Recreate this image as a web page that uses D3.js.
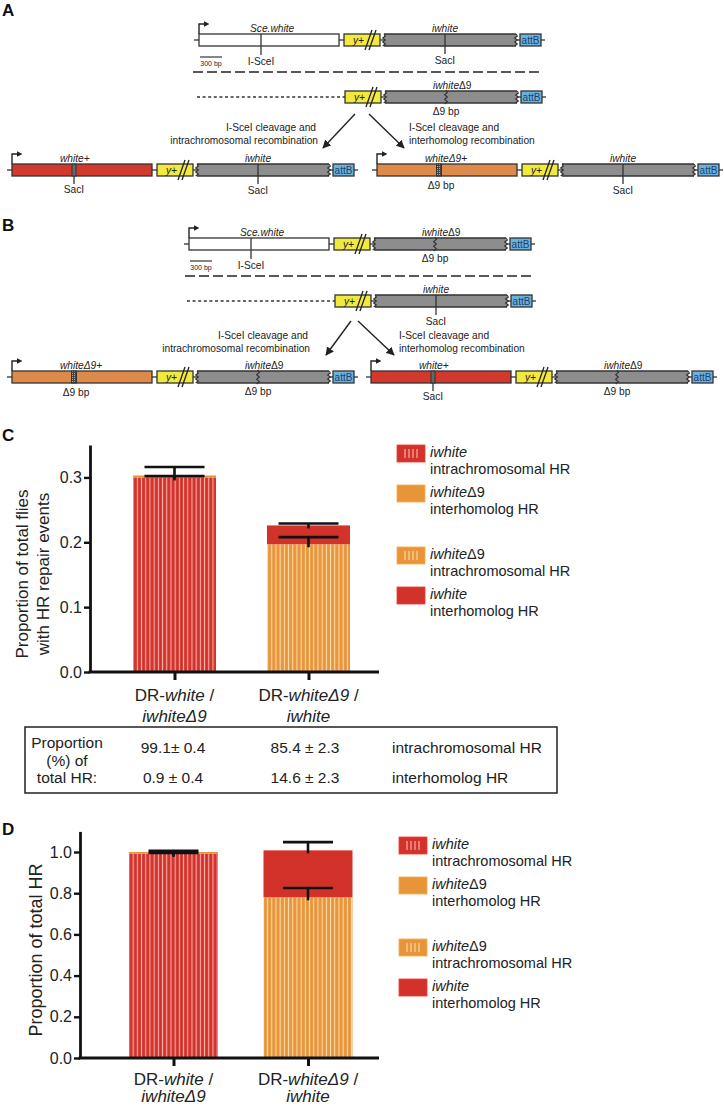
<!DOCTYPE html>
<html>
<head>
<meta charset="utf-8">
<script src="https://cdn.jsdelivr.net/npm/d3@7"></script>
<style>
  body { margin: 0; background: #fff; }
  svg { display: block; font-family: Arial, "Liberation Sans", Helvetica, sans-serif; }
</style>
</head>
<body>
<svg id="fig" width="724" height="1106"></svg>
<script>
// ---- data -------------------------------------------------------------
const categories = ['DR-white / iwhiteΔ9', 'DR-whiteΔ9 / iwhite'];
// each label line: [plain, italic, plain]
const categoryLines = [
  [['DR-', 'white', ' /'], ['', 'iwhiteΔ9', '']],
  [['DR-', 'whiteΔ9', ' /'], ['', 'iwhite', '']]
];

// C: proportion of total flies with HR repair events
const flyTicks = [0, 0.1, 0.2, 0.3];
const flyIntra = [0.300, 0.197];
const flyIntraErr = [0.002, 0.011];
const flyInter = [0.003, 0.029];
const flyTotalErr = [0.013, 0.003];

// D: proportion of total HR
const hrTicks = [0, 0.2, 0.4, 0.6, 0.8, 1.0];
const hrIntra = [0.991, 0.780];
const hrIntraErr = [0.004, 0.045];
const hrInter = [0.009, 0.228];
const hrTotalErr = [0.006, 0.040];

// table under C
const tableHead = ['Proportion', '(%) of', 'total HR:'];
const tableIntra = ['99.1± 0.4', '85.4 ± 2.3'];
const tableInter = ['0.9 ± 0.4', '14.6 ± 2.3'];
const tableRows = ['intrachromosomal HR', 'interhomolog HR'];

const legendItems = [
  { name: 'iwhite', kind: 'intrachromosomal HR', fill: 'redStripe' },
  { name: 'iwhiteΔ9', kind: 'interhomolog HR', fill: 'orange' },
  { name: 'iwhiteΔ9', kind: 'intrachromosomal HR', fill: 'orangeStripe', gap: true },
  { name: 'iwhite', kind: 'interhomolog HR', fill: 'red' }
];

const RED = '#d3322b';
const ORANGE = '#e8953a';

const svg = d3.select('#fig');
svg.append('rect').attr('width', 724).attr('height', 1106).attr('fill', '#fff');
const defs = svg.append('defs');

function stripePattern(id, base, line) {
  const p = defs.append('pattern').attr('id', id)
    .attr('patternUnits', 'userSpaceOnUse').attr('width', 4.2).attr('height', 10);
  p.append('rect').attr('width', 4.2).attr('height', 10).attr('fill', base);
  p.append('rect').attr('x', 2.4).attr('width', 1.1).attr('height', 10).attr('fill', line);
}
stripePattern('redStripe', RED, '#f6b3ad');
stripePattern('orangeStripe', ORANGE, '#f9dcae');
const dots = defs.append('pattern').attr('id', 'dots')
  .attr('patternUnits', 'userSpaceOnUse').attr('width', 2).attr('height', 2);
dots.append('rect').attr('width', 2).attr('height', 2).attr('fill', '#444');
dots.append('rect').attr('width', 1).attr('height', 1).attr('fill', '#aaa');

defs.append('marker').attr('id', 'arrow').attr('viewBox', '0 0 10 10')
  .attr('refX', 9).attr('refY', 5).attr('markerWidth', 6).attr('markerHeight', 6)
  .attr('orient', 'auto')
  .append('path').attr('d', 'M0,0L10,5L0,10z').attr('fill', '#222');
defs.append('marker').attr('id', 'prom').attr('viewBox', '0 0 10 10')
  .attr('refX', 2).attr('refY', 5).attr('markerWidth', 4).attr('markerHeight', 4)
  .attr('orient', 'auto')
  .append('path').attr('d', 'M0,0L10,5L0,10z').attr('fill', '#222');

const fills = { redStripe: 'url(#redStripe)', orangeStripe: 'url(#orangeStripe)', red: RED, orange: ORANGE };

function richText(g, x, y, parts, size, anchor) {
  const t = g.append('text').attr('x', x).attr('y', y)
    .attr('font-size', size).attr('text-anchor', anchor || 'middle')
    .attr('dominant-baseline', 'central').attr('fill', '#222');
  parts.forEach(([s, it]) => {
    if (s) t.append('tspan').attr('font-style', it ? 'italic' : 'normal').text(s);
  });
  return t;
}

function panelLetter(x, y, s) {
  svg.append('text').attr('x', x).attr('y', y).attr('font-size', 17)
    .attr('font-weight', 'bold').attr('fill', '#111').text(s);
}

// ---- construct diagrams (A, B) ------------------------------------------
// element offsets within one construct, px from its start
const U = { box1: [0, 140], mark1: 62, yplus: [145, 181], grey: [185, 317], mark2: 246, attB: [321, 342], end: 346 };
const BOX_FILL = { white: '#fff', red: '#d3382c', orange: '#de8a4b' };
const constructs = [
  { x0: 199, y: 40, box1: 'white', name1: 'Sce.white', site1: 'isce', name2: 'iwhite', site2: 'sac', scale: true },
  { x0: 200, y: 97, box1: null, dotFrom: 197, name2: 'iwhiteΔ9', site2: 'd9' },
  { x0: 12, y: 170, box1: 'red', name1: 'white+', site1: 'sac', name2: 'iwhite', site2: 'sac' },
  { x0: 377, y: 170, box1: 'orange', name1: 'whiteΔ9+', site1: 'd9', name2: 'iwhite', site2: 'sac' },
  { x0: 189, y: 244, box1: 'white', name1: 'Sce.white', site1: 'isce', name2: 'iwhiteΔ9', site2: 'd9', scale: true },
  { x0: 190, y: 301, box1: null, dotFrom: 187, name2: 'iwhite', site2: 'sac' },
  { x0: 12, y: 377, box1: 'orange', name1: 'whiteΔ9+', site1: 'd9', name2: 'iwhiteΔ9', site2: 'd9' },
  { x0: 371, y: 377, box1: 'red', name1: 'white+', site1: 'sac', name2: 'iwhiteΔ9', site2: 'd9' }
];

function zigzag(x, y0, y1, amp, n) {
  const h = (y1 - y0) / n;
  let d = `M${x},${y0}`;
  for (let i = 1; i <= n; i++) d += `L${x + (i % 2 ? amp : -amp)},${y0 + h * i}`;
  return d;
}

const LINE = '#333';
function drawConstruct(c) {
  const g = svg.append('g').attr('transform', `translate(${c.x0},${c.y})`);
  const h = 6;
  const fs = 10.2;
  // backbone
  if (c.box1) {
    g.append('line').attr('x1', -5).attr('x2', 0).attr('stroke', LINE).attr('stroke-width', 1.3);
    g.append('path').attr('d', `M0,${-h}V${-16}H6`).attr('fill', 'none')
      .attr('stroke', '#222').attr('stroke-width', 1.4).attr('marker-end', 'url(#prom)');
  } else {
    g.append('line').attr('x1', c.dotFrom - c.x0).attr('x2', U.yplus[0])
      .attr('stroke', LINE).attr('stroke-width', 1.3).attr('stroke-dasharray', '3,2.6');
  }
  [[U.box1[1], U.yplus[0]], [U.yplus[1], U.grey[0]], [U.grey[1], U.attB[0]], [U.attB[1], U.end]]
    .forEach(([a, b], i) => {
      if (i === 0 && !c.box1) return;
      g.append('line').attr('x1', a).attr('x2', b).attr('stroke', LINE).attr('stroke-width', 1.3);
    });
  // first box
  if (c.box1) {
    g.append('rect').attr('x', U.box1[0]).attr('y', -h).attr('width', U.box1[1] - U.box1[0]).attr('height', 2 * h)
      .attr('fill', BOX_FILL[c.box1]).attr('stroke', LINE).attr('stroke-width', 1.3);
    richText(g, c.box1 === 'white' ? 51 : 48, -12, [[c.name1, true]], fs, 'start');
    const m = U.mark1;
    if (c.site1 === 'isce') {
      g.append('line').attr('x1', m).attr('x2', m).attr('y1', -h).attr('y2', 15).attr('stroke', LINE).attr('stroke-width', 1.3);
      richText(g, m, 21, [['I-SceI', false]], fs);
    } else if (c.site1 === 'sac') {
      g.append('rect').attr('x', m - 2).attr('y', -h).attr('width', 4).attr('height', 2 * h)
        .attr('fill', '#666').attr('stroke', LINE).attr('stroke-width', 1);
      g.append('line').attr('x1', m).attr('x2', m).attr('y1', h).attr('y2', 14).attr('stroke', LINE).attr('stroke-width', 1.3);
      richText(g, m, 19, [['SacI', false]], fs);
    } else {
      g.append('rect').attr('x', m - 2.5).attr('y', -h).attr('width', 5).attr('height', 2 * h)
        .attr('fill', 'url(#dots)').attr('stroke', LINE).attr('stroke-width', 1);
      richText(g, m + 2, 15, [['Δ9 bp', false]], fs);
    }
    if (c.scale) {
      g.append('line').attr('x1', 1).attr('x2', 23).attr('y1', 17).attr('y2', 17).attr('stroke', LINE).attr('stroke-width', 1.2);
      richText(g, 12, 23, [['300 bp', false]], 7);
    }
  }
  // y+ with break
  g.append('rect').attr('x', U.yplus[0]).attr('y', -h).attr('width', U.yplus[1] - U.yplus[0]).attr('height', 2 * h)
    .attr('fill', '#f1e93c').attr('stroke', LINE).attr('stroke-width', 1.3);
  richText(g, U.yplus[0] + 20, 0, [['y+', true]], fs, 'end');
  [0, 4].forEach(dx => {
    g.append('line').attr('x1', U.yplus[0] + 21 + dx).attr('y1', 10).attr('x2', U.yplus[0] + 28 + dx).attr('y2', -10)
      .attr('stroke', '#222').attr('stroke-width', 1.3);
  });
  // grey iwhite box with jagged ends
  g.append('rect').attr('x', U.grey[0]).attr('y', -h).attr('width', U.grey[1] - U.grey[0]).attr('height', 2 * h)
    .attr('fill', '#8d8d8d');
  [-h, h].forEach(yy => g.append('line').attr('x1', U.grey[0]).attr('x2', U.grey[1]).attr('y1', yy).attr('y2', yy)
    .attr('stroke', LINE).attr('stroke-width', 1.3));
  [U.grey[0], U.grey[1]].forEach(x => g.append('path').attr('d', zigzag(x, -h, h, 1.3, 6))
    .attr('fill', 'none').attr('stroke', LINE).attr('stroke-width', 1.2));
  richText(g, 233, -12, [[c.name2.replace('Δ9', ''), true], [c.name2.includes('Δ9') ? 'Δ9' : '', false]], fs, 'start');
  const m2 = U.mark2;
  if (c.site2 === 'sac') {
    g.append('line').attr('x1', m2).attr('x2', m2).attr('y1', -h).attr('y2', 14).attr('stroke', LINE).attr('stroke-width', 1.3);
    richText(g, m2, 20, [['SacI', false]], fs);
  } else {
    g.append('path').attr('d', zigzag(m2, -h - 1, h + 1, 1.3, 6)).attr('fill', 'none').attr('stroke', LINE).attr('stroke-width', 1.2);
    richText(g, m2, 14, [['Δ9 bp', false]], fs);
  }
  // attB
  g.append('rect').attr('x', U.attB[0]).attr('y', -h).attr('width', U.attB[1] - U.attB[0]).attr('height', 2 * h)
    .attr('fill', '#6cb2dc').attr('stroke', LINE).attr('stroke-width', 1.3);
  g.append('text').attr('x', (U.attB[0] + U.attB[1]) / 2).attr('y', 0).attr('dominant-baseline', 'central')
    .attr('text-anchor', 'middle').attr('font-size', 10).attr('fill', '#1c3f72').text('attB');
}
constructs.forEach(drawConstruct);

// separators, arrows, recombination captions
[[72, 193, 542], [276, 185, 534]].forEach(([y, a, b]) => {
  svg.append('line').attr('x1', a).attr('x2', b).attr('y1', y).attr('y2', y)
    .attr('stroke', '#222').attr('stroke-width', 1.6).attr('stroke-dasharray', '10,4');
});
const arrows = [
  [355, 114, 323, 148], [369, 114, 404, 148],
  [351, 321, 326, 355], [358, 321, 394, 355]
];
arrows.forEach(([x1, y1, x2, y2]) => {
  svg.append('line').attr('x1', x1).attr('y1', y1).attr('x2', x2).attr('y2', y2)
    .attr('stroke', '#222').attr('stroke-width', 1.4).attr('marker-end', 'url(#arrow)');
});
const captions = [
  [318, 127, 'end', ['I-SceI cleavage and', 'intrachromosomal recombination']],
  [409, 127, 'start', ['I-SceI cleavage and', 'interhomolog recombination']],
  [310, 335, 'end', ['I-SceI cleavage and', 'intrachromosomal recombination']],
  [399, 335, 'start', ['I-SceI cleavage and', 'interhomolog recombination']]
];
captions.forEach(([x, y, anchor, lines]) => {
  lines.forEach((s, i) => richText(svg, i === 0 && anchor === 'end' ? x - 2 : x, y + i * 12.5, [[s, false]], 10.2, anchor));
});

panelLetter(2, 16, 'A');
panelLetter(2, 231, 'B');
panelLetter(2, 441, 'C');
panelLetter(2, 835, 'D');

// ---- stacked bar charts (C, D) ------------------------------------------
function drawChart(cfg) {
  const g = svg.append('g');
  const y = d3.scaleLinear().domain([0, cfg.yMax]).range([cfg.bottom, cfg.top]);
  const x = d3.scalePoint().domain(categories).range(cfg.centers);
  const bw = cfg.barW;
  const bottomFill = ['redStripe', 'orangeStripe'];
  const topFill = ['orange', 'red'];

  categories.forEach((cat, i) => {
    const cx = x(cat);
    const lo = cfg.intra[i];
    const tot = cfg.intra[i] + cfg.inter[i];
    g.append('rect').attr('x', cx - bw / 2).attr('width', bw)
      .attr('y', y(lo)).attr('height', y(0) - y(lo)).attr('fill', fills[bottomFill[i]]);
    g.append('rect').attr('x', cx - bw / 2).attr('width', bw)
      .attr('y', y(tot)).attr('height', y(lo) - y(tot)).attr('fill', fills[topFill[i]]);
    // error bars (upper only)
    [[lo, cfg.intraErr[i]], [tot, cfg.totalErr[i]]].forEach(([v, e]) => {
      g.append('line').attr('x1', cx).attr('x2', cx).attr('y1', y(v) + 3).attr('y2', y(v + e))
        .attr('stroke', '#111').attr('stroke-width', 2.6);
      g.append('line').attr('x1', cx - cfg.capW / 2).attr('x2', cx + cfg.capW / 2)
        .attr('y1', y(v + e)).attr('y2', y(v + e)).attr('stroke', '#111').attr('stroke-width', 2.6);
    });
  });

  const yAxis = g.append('g').attr('transform', `translate(${cfg.axisX},0)`)
    .call(d3.axisLeft(y).tickValues(cfg.ticks).tickFormat(d3.format('.1f')).tickSize(6).tickSizeOuter(0).tickPadding(2));
  yAxis.select('.domain').attr('stroke', '#111').attr('stroke-width', 2.8);
  yAxis.selectAll('.tick line').attr('stroke', '#111').attr('stroke-width', 2.4);
  yAxis.selectAll('.tick text').attr('font-size', 16).attr('fill', '#222')
    .attr('font-family', 'Arial, "Liberation Sans", sans-serif');

  g.append('line').attr('x1', cfg.axisX - 1.4).attr('x2', cfg.axisEnd)
    .attr('y1', cfg.bottom).attr('y2', cfg.bottom).attr('stroke', '#111').attr('stroke-width', 2.8);
  const xAxis = g.append('g').attr('transform', `translate(0,${cfg.bottom})`)
    .call(d3.axisBottom(x).tickSize(8).tickFormat(''));
  xAxis.select('.domain').remove();
  xAxis.selectAll('.tick line').attr('stroke', '#111').attr('stroke-width', 3);

  categories.forEach((cat, i) => {
    categoryLines[i].forEach((parts, j) => {
      richText(g, x(cat), cfg.labelY[j], [[parts[0], false], [parts[1], true], [parts[2], false]], 17);
    });
  });

  cfg.yLabel.forEach((s, j) => {
    g.append('text').attr('transform', `translate(${cfg.yLabelX[j]},${cfg.yLabelY}) rotate(-90)`)
      .attr('text-anchor', 'middle').attr('dominant-baseline', 'central')
      .attr('font-size', cfg.yLabelSize).attr('fill', '#222').text(s);
  });

  // legend
  let ly = cfg.legendTop;
  legendItems.forEach((it) => {
    if (it.gap) ly += 22;
    const lg = g.append('g').attr('transform', `translate(${cfg.legendX},${ly})`);
    const base = it.fill.startsWith('red') ? RED : ORANGE;
    lg.append('rect').attr('width', 28).attr('height', 17).attr('fill', base)
      .attr('stroke', d3.color(base).brighter(0.4)).attr('stroke-width', 0.8);
    if (it.fill.endsWith('Stripe')) {
      [8, 12, 16, 20].forEach(dx => lg.append('line').attr('x1', dx).attr('x2', dx).attr('y1', 4).attr('y2', 13)
        .attr('stroke', it.fill === 'redStripe' ? '#f8c7c2' : '#fbe2bb').attr('stroke-width', 1));
    }
    richText(lg, 33, 7, [[it.name.replace('Δ9', ''), true], [it.name.includes('Δ9') ? 'Δ9' : '', false]], 14.5, 'start');
    richText(lg, 33, 24, [[it.kind, false]], 14.5, 'start');
    ly += 40;
  });
}

drawChart({
  top: 445, bottom: 672, yMax: 0.35, ticks: flyTicks, axisX: 90, axisEnd: 379,
  centers: [174.5, 308.5], barW: 83, capW: 60,
  intra: flyIntra, intraErr: flyIntraErr, inter: flyInter, totalErr: flyTotalErr,
  labelY: [695, 716],
  yLabel: ['Proportion of total flies', 'with HR repair events'], yLabelX: [22, 43], yLabelY: 574, yLabelSize: 17,
  legendX: 397, legendTop: 445
});

drawChart({
  top: 831.4, bottom: 1058, yMax: 1.1, ticks: hrTicks, axisX: 80, axisEnd: 379,
  centers: [173.5, 308], barW: 89, capW: 50,
  intra: hrIntra, intraErr: hrIntraErr, inter: hrInter, totalErr: hrTotalErr,
  labelY: [1079, 1096],
  yLabel: ['Proportion of total HR'], yLabelX: [36], yLabelY: 950, yLabelSize: 18,
  legendX: 399, legendTop: 837
});

// ---- table under C ------------------------------------------------------
const table = svg.append('g');
table.append('rect').attr('x', 25).attr('y', 727).attr('width', 532).attr('height', 66)
  .attr('fill', 'none').attr('stroke', '#222').attr('stroke-width', 1.5);
tableHead.forEach((s, i) => richText(table, 67, 742 + i * 17.5, [[s, false]], 15.5));
[tableIntra, tableInter].forEach((row, r) => {
  const yy = 747 + r * 30;
  row.forEach((s, c) => richText(table, [173, 305][c], yy, [[s, false]], 15.5));
  richText(table, 392, yy, [[tableRows[r], false]], 15.5, 'start');
});
</script>
</body>
</html>
